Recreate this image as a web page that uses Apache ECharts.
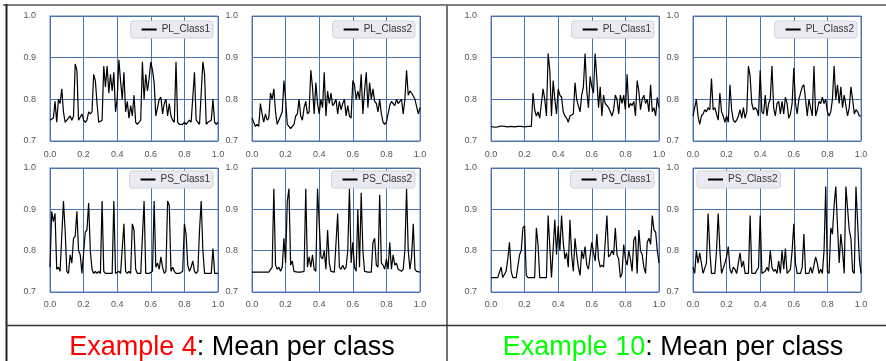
<!DOCTYPE html>
<html>
<head>
<meta charset="utf-8">
<script src="https://cdn.jsdelivr.net/npm/echarts@6/dist/echarts.min.js"></script>
<style>
  body { margin: 0; background: #fff; }
  #main { width: 886px; height: 361px; }
</style>
</head>
<body>
<div id="main"></div>
<script>
// mean per class, sampled at x = 0.00 .. 1.00
var e4PL1 = [.75,.75,.755,.795,.745,.80,.79,.825,.77,.745, .75,.75,.76,.75,.76,.885,.87,.75,.75,.765,
  .75,.745,.75,.77,.765,.77,.86,.845,.79,.745, .745,.75,.88,.83,.88,.815,.86,.82,.865,.77,
  .80,.895,.845,.80,.865,.77,.795,.755,.785,.76, .81,.745,.74,.74,.75,.89,.80,.86,.82,.85,
  .89,.87,.84,.76,.78,.80,.805,.765,.79,.80, .76,.79,.76,.75,.745,.89,.745,.74,.74,.74,
  .745,.74,.74,.75,.745,.745,.865,.75,.745,.74, .74,.89,.86,.74,.745,.745,.75,.80,.745,.74, .745];
var e4PL2 = [.755,.745,.735,.74,.735,.79,.765,.745,.765,.75, .755,.815,.80,.825,.77,.74,.75,.76,.77,.845,
  .80,.74,.735,.73,.73,.74,.76,.765,.80,.76, .75,.78,.795,.765,.77,.87,.83,.765,.84,.79,
  .765,.80,.78,.865,.76,.82,.79,.815,.785,.79, .80,.765,.795,.775,.79,.80,.76,.785,.76,.755,
  .845,.835,.80,.82,.80,.86,.765,.82,.865,.78, .84,.80,.825,.795,.79,.77,.80,.765,.745,.74,
  .745,.765,.785,.795,.79,.785,.80,.79,.795,.80, .765,.80,.87,.81,.82,.815,.815,.80,.80,.765, .78];
var e4PS1 = [.76,.895,.87,.89,.755,.76,.75,.75,.92,.85, .75,.745,.79,.77,.83,.835,.895,.80,.79,.745,
  .745,.845,.85,.915,.80,.755,.745,.75,.745,.75, .745,.92,.75,.745,.745,.745,.745,.745,.92,.745,
  .745,.75,.745,.745,.865,.75,.745,.75,.745,.865, .85,.755,.745,.745,.745,.745,.92,.745,.745,.745,
  .745,.75,.92,.76,.77,.755,.785,.76,.745,.75, .92,.91,.75,.76,.75,.745,.745,.745,.745,.75,
  .865,.84,.765,.75,.76,.775,.75,.745,.75,.85, .92,.80,.745,.745,.745,.745,.745,.805,.745,.745, .745];
var e4PS2 = [.748,.748,.748,.748,.748,.748,.748,.752,.748,.748, .748,.748,.76,.95,.765,.755,.76,.75,.76,.83,
  .77,.92,.95,.765,.775,.75,.748,.748,.748,.748, .748,.75,.95,.76,.785,.76,.79,.755,.75,.95,
  .95,.785,.78,.80,.755,.85,.77,.75,.748,.748, .75,.89,.76,.755,.765,.755,.76,.80,.95,.77,
  .82,.76,.75,.90,.76,.94,.80,.75,.748,.748, .748,.748,.82,.83,.765,.76,.935,.77,.765,.755,
  .78,.755,.82,.755,.79,.765,.77,.755,.755,.75, .755,.80,.95,.80,.755,.785,.865,.755,.75,.75, .748];
var e10PL1 = [.735,.735,.733,.735,.734,.734,.736,.733,.735,.737, .734,.735,.735,.736,.734,.737,.735,.734,.735,.735,
  .734,.736,.735,.735,.735,.815,.775,.76,.77,.755, .79,.825,.80,.76,.91,.87,.76,.845,.80,.765,
  .825,.81,.805,.77,.76,.755,.745,.76,.76,.765, .84,.80,.785,.77,.81,.83,.91,.82,.78,.855,
  .83,.815,.91,.85,.78,.83,.76,.81,.79,.79, .78,.77,.76,.775,.81,.80,.765,.81,.79,.81,
  .775,.86,.78,.79,.785,.795,.76,.845,.82,.775, .80,.81,.79,.80,.77,.835,.77,.78,.76,.805, .78];
var e10PL2 = [.76,.78,.80,.76,.74,.76,.765,.775,.77,.78, .775,.85,.775,.78,.765,.75,.815,.77,.76,.745,
  .76,.745,.835,.775,.75,.745,.75,.76,.775,.755, .78,.755,.77,.88,.855,.79,.775,.78,.775,.76,
  .87,.77,.765,.81,.76,.79,.80,.88,.78,.76, .79,.795,.765,.795,.765,.805,.79,.755,.765,.79,
  .875,.79,.765,.80,.80,.83,.835,.80,.76,.80, .78,.76,.88,.76,.775,.795,.79,.805,.79,.80,
  .77,.76,.77,.80,.88,.80,.835,.79,.83,.78, .81,.785,.76,.78,.83,.80,.765,.775,.77,.76, .76];
var e10PS1 = [.735,.735,.735,.735,.735,.735,.76,.735,.735,.75, .78,.82,.75,.735,.735,.735,.735,.79,.80,.855,
  .86,.74,.735,.735,.735,.735,.735,.855,.815,.735, .735,.735,.735,.735,.885,.81,.735,.735,.875,.79,
  .86,.80,.885,.82,.78,.795,.76,.875,.79,.75, .83,.79,.76,.74,.80,.78,.81,.765,.755,.755,
  .82,.795,.775,.84,.78,.76,.765,.76,.76,.885, .785,.79,.80,.79,.855,.79,.78,.735,.745,.815,
  .78,.765,.80,.78,.75,.825,.835,.745,.85,.80, .79,.76,.745,.82,.83,.815,.885,.85,.845,.80, .77];
var e10PS2 = [.76,.745,.80,.77,.795,.77,.745,.745,.77,.89, .80,.745,.745,.745,.80,.89,.80,.745,.745,.77,
  .785,.81,.755,.745,.76,.755,.745,.745,.795,.76, .775,.745,.745,.745,.885,.745,.745,.745,.745,.76,
  .885,.745,.745,.75,.76,.75,.80,.76,.75,.755, .745,.775,.745,.80,.755,.805,.745,.745,.755,.80,
  .865,.77,.745,.745,.745,.76,.84,.745,.745,.745, .76,.745,.745,.785,.77,.745,.755,.745,.80,.955,
  .75,.745,.855,.84,.91,.955,.86,.77,.84,.80, .745,.955,.955,.85,.83,.75,.745,.955,.955,.78, .745];

var names = ['PL_Class1', 'PL_Class2', 'PS_Class1', 'PS_Class2', 'PL_Class1', 'PL_Class2', 'PS_Class1', 'PS_Class2'];
var xTicks = ['0.0', '0.2', '0.4', '0.6', '0.8', '1.0'];
var captions = [['Example 4', ': Mean per class'], ['Example 10', ': Mean per class']];

var chart = echarts.init(document.getElementById('main'));
var values = [e4PL1, e4PL2, e4PS1, e4PS2, e10PL1, e10PL2, e10PS1, e10PS2];

// left, top, height of every small plot
var boxes = [[50, 16, 125], [252, 16, 125], [50, 168, 124], [252, 168, 124],
  [491, 16, 125], [693, 16, 125], [491, 168, 124], [693, 168, 124]];
var legendPos = [{right: 673, top: 21}, {right: 471, top: 21}, {right: 673, top: 171}, {right: 471, top: 171},
  {right: 232, top: 21}, {right: 29, top: 21}, {right: 232, top: 171}, {left: 697, top: 171}];

var tickFont = {color: '#555', fontSize: 9, fontFamily: 'Liberation Sans'};
var grid = [], xAxis = [], yAxis = [], series = [], legend = [];

boxes.forEach(function (b, i) {
  grid.push({left: b[0], top: b[1], width: 168, height: b[2], show: true,
    borderColor: '#5b7fc0', borderWidth: 1, backgroundColor: '#fff'});
  xAxis.push({type: 'value', gridIndex: i, min: 0, max: 1, interval: 0.2,
    axisLine: {show: false}, axisTick: {show: false},
    splitLine: {lineStyle: {color: '#4c72b0', width: 1}},
    axisLabel: Object.assign({margin: b[1] < 100 ? 9 : 8, formatter: function (v) {
      return xTicks[Math.round(v / 0.2)];
    }}, tickFont)});
  yAxis.push({type: 'value', gridIndex: i, min: 0.7, max: 1.0, interval: 0.1,
    axisLine: {show: false}, axisTick: {show: false},
    splitLine: {lineStyle: {color: '#4c72b0', width: 1}},
    axisLabel: Object.assign({margin: 14, formatter: function (v) { return v.toFixed(1); }}, tickFont)});
  var ys = values[i];
  series.push({type: 'line', name: names[i], xAxisIndex: i, yAxisIndex: i,
    data: ys.map(function (v, k) { return [k / (ys.length - 1), v]; }),
    showSymbol: false, lineStyle: {color: '#000', width: 1.2}, itemStyle: {color: '#000'}});
  legend.push(Object.assign({
    data: [names[i]], selectedMode: false,
    backgroundColor: '#eaeaf2', borderColor: '#d2d2da', borderWidth: 1, borderRadius: 3,
    padding: [3, 3, 3, 11], itemWidth: 15, itemHeight: 2, icon: 'rect',
    textStyle: {fontSize: 10, color: '#333', fontFamily: 'Liberation Sans', lineHeight: 11}
  }, legendPos[i]));
});

var capStyle = {fontSize: 27, fontWeight: 'normal', fontFamily: 'Liberation Sans', lineHeight: 30};
var option = {
  animation: false,
  backgroundColor: '#fff',
  title: [
    {text: '{r|' + captions[0][0] + '}{k|' + captions[0][1] + '}', left: 227, top: 328, textAlign: 'center',
      textStyle: {fontWeight: 'normal', rich: {r: Object.assign({color: '#ff0000'}, capStyle), k: Object.assign({color: '#000'}, capStyle)}}},
    {text: '{g|' + captions[1][0] + '}{k|' + captions[1][1] + '}', left: 668, top: 328, textAlign: 'center',
      textStyle: {fontWeight: 'normal', rich: {g: Object.assign({color: '#00ff00'}, capStyle), k: Object.assign({color: '#000'}, capStyle)}}}
  ],
  graphic: [
    {type: 'line', shape: {x1: 3, y1: 5, x2: 886, y2: 5}, style: {stroke: '#808080', lineWidth: 2}},
    {type: 'line', shape: {x1: 6.5, y1: 4, x2: 6.5, y2: 361}, style: {stroke: '#222', lineWidth: 2}},
    {type: 'line', shape: {x1: 447, y1: 4, x2: 447, y2: 361}, style: {stroke: '#707070', lineWidth: 2}},
    {type: 'line', shape: {x1: 6, y1: 325.5, x2: 886, y2: 325.5}, style: {stroke: '#333', lineWidth: 1.5}}
  ],
  legend: legend,
  grid: grid,
  xAxis: xAxis,
  yAxis: yAxis,
  series: series
};
chart.setOption(option);
</script>
</body>
</html>
